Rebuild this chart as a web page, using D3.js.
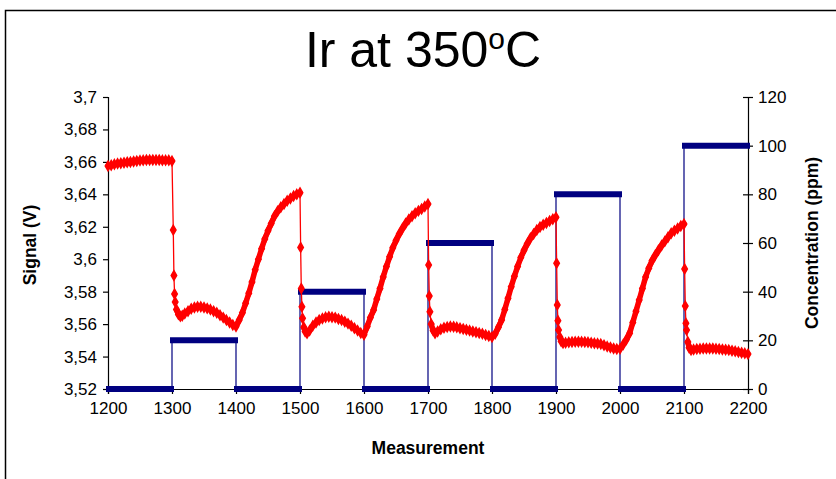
<!DOCTYPE html>
<html>
<head>
<meta charset="utf-8">
<script src="https://cdn.jsdelivr.net/npm/d3@7"></script>
<style>
  body { margin: 0; background: #fff; }
  svg { display: block; font-family: "Liberation Sans", Arial, sans-serif; }
</style>
</head>
<body>
<div id="chart"></div>
<script>
// signal (V) read off the picture, [measurement, value]
// fast drops after each gas step are kept apart from the slow curves
const curve0 = [[1200,3.6575],[1205,3.658],[1210,3.6585],[1215,3.659],[1220,3.6592],[1225,3.6595],[1230,3.6598],[1235,3.66],[1240,3.6603],[1245,3.6605],[1250,3.6608],[1255,3.661],[1260,3.6612],[1265,3.6612],[1270,3.6612],[1275,3.6612],[1280,3.6612],[1285,3.661],[1290,3.661],[1295,3.661],[1300,3.6605]];
const drop1 = [[1302,3.618],[1303,3.59],[1304,3.5786],[1305,3.5736]];
const curve1 = [[1307,3.569],[1310,3.566],[1313,3.5648],[1316,3.5652],[1320,3.5665],[1325,3.568],[1330,3.5695],[1335,3.5703],[1340,3.5707],[1345,3.5707],[1350,3.5703],[1355,3.5697],[1360,3.569],[1365,3.568],[1370,3.567],[1375,3.5655],[1380,3.564],[1385,3.5625],[1390,3.561],[1395,3.5595],[1400,3.5585],
  [1405,3.5625],[1410,3.567],[1415,3.5728],[1420,3.579],[1425,3.586],[1430,3.5935],[1435,3.6],[1440,3.6065],[1445,3.6125],[1450,3.6175],[1455,3.622],[1460,3.6265],[1465,3.6295],[1470,3.632],[1475,3.634],[1480,3.636],[1485,3.6375],[1490,3.639],[1495,3.64],[1500,3.641]];
const drop2 = [[1501,3.6073],[1502,3.582],[1503,3.5707],[1504,3.5636]];
const curve2 = [[1506,3.558],[1508,3.5555],[1511,3.5543],[1515,3.556],[1520,3.559],[1525,3.561],[1530,3.5625],[1535,3.5635],[1540,3.5642],[1545,3.5646],[1550,3.5643],[1555,3.564],[1560,3.5632],[1565,3.5625],[1570,3.5615],[1575,3.5603],[1580,3.559],[1585,3.5575],[1590,3.556],[1595,3.5545],[1600,3.5535],
  [1605,3.5585],[1610,3.564],[1615,3.5687],[1620,3.5755],[1625,3.582],[1630,3.589],[1635,3.5955],[1640,3.6015],[1645,3.607],[1650,3.6115],[1655,3.6155],[1660,3.619],[1665,3.622],[1670,3.6245],[1675,3.6265],[1680,3.6283],[1685,3.6298],[1690,3.631],[1695,3.6325],[1700,3.634]];
const drop3 = [[1701,3.5964],[1702,3.5773],[1703,3.5676]];
const curve3 = [[1705,3.56],[1708,3.556],[1711,3.5543],[1715,3.5555],[1720,3.5568],[1725,3.5577],[1730,3.5582],[1735,3.5585],[1740,3.5584],[1745,3.558],[1750,3.5575],[1755,3.557],[1760,3.5565],[1765,3.556],[1770,3.5555],[1775,3.555],[1780,3.5545],[1785,3.554],[1790,3.5533],[1795,3.5527],[1800,3.552],
  [1805,3.554],[1810,3.558],[1815,3.5625],[1820,3.569],[1825,3.576],[1830,3.583],[1835,3.5895],[1840,3.5955],[1845,3.601],[1850,3.6055],[1855,3.6095],[1860,3.613],[1865,3.6155],[1870,3.618],[1875,3.6198],[1880,3.6212],[1885,3.6224],[1890,3.6236],[1895,3.6247],[1900,3.6258]];
const drop4 = [[1901,3.5975],[1902,3.5718],[1903,3.5621],[1904,3.5563]];
const curve4 = [[1906,3.552],[1908,3.5495],[1911,3.5483],[1915,3.5485],[1920,3.5488],[1925,3.549],[1930,3.5491],[1935,3.5492],[1940,3.5491],[1945,3.549],[1950,3.5488],[1955,3.5485],[1960,3.5482],[1965,3.548],[1970,3.5477],[1975,3.547],[1980,3.5462],[1985,3.5456],[1990,3.545],[1995,3.5446],[2000,3.5448],
  [2005,3.5475],[2010,3.5505],[2015,3.5543],[2020,3.561],[2025,3.568],[2030,3.5748],[2035,3.582],[2040,3.589],[2045,3.5945],[2050,3.599],[2055,3.6025],[2060,3.6055],[2065,3.6085],[2070,3.611],[2075,3.6135],[2080,3.616],[2085,3.6175],[2090,3.619],[2095,3.6205],[2100,3.6217]];
const drop5 = [[2101,3.594],[2102,3.5711],[2103,3.5605],[2104,3.5563]];
const curve5 = [[2106,3.549],[2108,3.5455],[2111,3.544],[2115,3.5443],[2120,3.5446],[2125,3.5448],[2130,3.545],[2135,3.545],[2140,3.545],[2145,3.545],[2150,3.5448],[2155,3.5446],[2160,3.5444],[2165,3.5442],[2170,3.544],[2175,3.5436],[2180,3.5432],[2185,3.5428],[2190,3.5424],[2195,3.542],[2200,3.5415]];

// concentration (ppm) steps
const concEdges = [1200, 1300, 1400, 1500, 1600, 1700, 1800, 1900, 2000, 2100, 2200];
const concLevels = [0, 20, 0, 40, 0, 60, 0, 80, 0, 100];

const xTicks = [1200, 1300, 1400, 1500, 1600, 1700, 1800, 1900, 2000, 2100, 2200];
const yTicks = [3.52, 3.54, 3.56, 3.58, 3.6, 3.62, 3.64, 3.66, 3.68, 3.7];
const y2Ticks = [0, 20, 40, 60, 80, 100, 120];

const curves = [curve0, curve1, curve2, curve3, curve4, curve5];
const signal = [].concat(curve0, drop1, curve1, drop2, curve2, drop3, curve3, drop4, curve4, drop5, curve5);

const W = 836, H = 479;
const margin = { top: 97, right: 88, bottom: 90, left: 108 };
const width = W - margin.left - margin.right;
const height = H - margin.top - margin.bottom;

const root = d3.select("#chart").append("svg")
    .attr("width", W)
    .attr("height", H);

// outer frame (cut off at right and bottom in the original)
root.append("rect")
    .attr("x", 5.5).attr("y", 10.5)
    .attr("width", 1000).attr("height", 1000)
    .attr("fill", "none")
    .attr("stroke", "#000")
    .attr("stroke-width", 1.5);

root.append("text")
    .attr("x", 423)
    .attr("y", 67)
    .attr("text-anchor", "middle")
    .style("font-size", "50px")
    .html('Ir at 350<tspan dy="-18" font-size="30px">o</tspan><tspan dy="18">C</tspan>');

const svg = root.append("g")
    .attr("transform", `translate(${margin.left},${margin.top})`);

const x = d3.scaleLinear().domain([1200, 2200]).range([0, width]);
const y = d3.scaleLinear().domain([3.52, 3.7]).range([height, 0]);
const y2 = d3.scaleLinear().domain([0, 120]).range([height, 0]);

const comma = d => d3.format("")(+d.toFixed(2)).replace(".", ",");

// axes
const gx = svg.append("g")
    .attr("transform", `translate(0,${height})`)
    .call(d3.axisBottom(x).tickValues(xTicks).tickSize(5).tickPadding(8).tickFormat(d3.format("d")));
const gy = svg.append("g")
    .call(d3.axisLeft(y).tickValues(yTicks).tickSize(5).tickPadding(6).tickFormat(comma));
const gy2 = svg.append("g")
    .attr("transform", `translate(${width},0)`)
    .call(d3.axisRight(y2).tickValues(y2Ticks).tickSize(5).tickPadding(5).tickFormat(d3.format("d")));
gy2.selectAll(".tick line").attr("x1", -5);

[gx, gy, gy2].forEach(g => {
    g.select(".domain").attr("stroke", "#000").attr("stroke-width", 1.2);
    g.selectAll(".tick line").attr("stroke", "#000").attr("stroke-width", 1.2);
    g.selectAll(".tick text")
        .style("font-size", "17px")
        .style("font-family", "'Liberation Sans', Arial, sans-serif")
        .attr("fill", "#000");
});

// axis titles
svg.append("text")
    .attr("x", width / 2)
    .attr("y", height + 65)
    .attr("text-anchor", "middle")
    .style("font-size", "17.5px")
    .style("font-weight", "bold")
    .text("Measurement");
svg.append("text")
    .attr("transform", `translate(${36 - margin.left},${height / 2 + 2}) rotate(-90)`)
    .attr("text-anchor", "middle")
    .style("font-size", "17.5px")
    .style("font-weight", "bold")
    .text("Signal (V)");
svg.append("text")
    .attr("transform", `translate(${width + 70},${height / 2}) rotate(-90)`)
    .attr("text-anchor", "middle")
    .style("font-size", "17.5px")
    .style("font-weight", "bold")
    .text("Concentration (ppm)");

// concentration series
const concPts = [];
concLevels.forEach((c, i) => {
    concPts.push([concEdges[i], c], [concEdges[i + 1], c]);
});
svg.append("path")
    .datum(concPts)
    .attr("fill", "none")
    .attr("stroke", "#000080")
    .attr("stroke-width", 1.2)
    .attr("d", d3.line().x(d => x(d[0])).y(d => y2(d[1])));
svg.selectAll(".conc")
    .data(concLevels)
    .enter()
    .append("line")
    .attr("class", "conc")
    .attr("x1", (d, i) => x(concEdges[i]) + 1)
    .attr("x2", (d, i) => x(concEdges[i + 1]) - 1)
    .attr("y1", d => y2(d))
    .attr("y2", d => y2(d))
    .attr("stroke", "#000080")
    .attr("stroke-width", 6)
    .attr("stroke-linecap", "square");

// signal series: thin connecting line, dense marker band, markers
const sigLine = d3.line().x(d => x(d[0])).y(d => y(d[1]));
svg.append("path")
    .datum(signal)
    .attr("fill", "none")
    .attr("stroke", "#ff0000")
    .attr("stroke-width", 1.3)
    .attr("d", sigLine);
svg.selectAll(".band")
    .data(curves)
    .enter()
    .append("path")
    .attr("class", "band")
    .attr("fill", "none")
    .attr("stroke", "#ff0000")
    .attr("stroke-width", 5.5)
    .attr("stroke-linejoin", "round")
    .attr("stroke-linecap", "round")
    .attr("d", sigLine);
svg.selectAll(".sig")
    .data(signal)
    .enter()
    .append("path")
    .attr("class", "sig")
    .attr("transform", d => `translate(${x(d[0])},${y(d[1])})`)
    .attr("d", d3.symbol(d3.symbolDiamond, 26))
    .attr("fill", "#ff0000")
    .attr("stroke", "#ff0000")
    .attr("stroke-width", 1.5);
</script>
</body>
</html>
